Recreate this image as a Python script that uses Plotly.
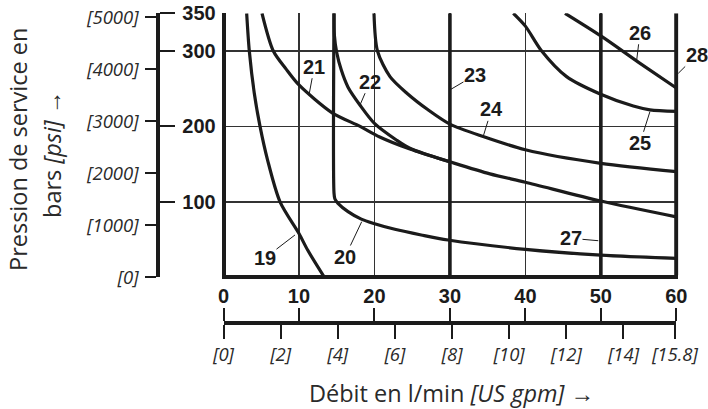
import plotly.graph_objects as go

# ---------------- data ----------------
LPM_PER_GPM = 3.78541
PSI_PER_BAR = 14.5038

flow_ticks = [0, 10, 20, 30, 40, 50, 60]
flow_labels = ["0", "10", "20", "30", "40", "50", "60"]
gpm_ticks = [0, 2, 4, 6, 8, 10, 12, 14, 15.8]
gpm_labels = ["[0]", "[2]", "[4]", "[6]", "[8]", "[10]", "[12]", "[14]", "[15.8]"]
bar_ticks = [100, 200, 300, 350]
bar_labels = ["100", "200", "300", "350"]
psi_ticks = [0, 1000, 2000, 3000, 4000, 5000]
psi_labels = ["[0]", "[1000]", "[2000]", "[3000]", "[4000]", "[5000]"]

grid_x = [10, 20, 30, 40, 50]
grid_y = [100, 200, 300, 350]

c19_x = [3.07, 3.42, 4.08, 4.84, 5.85, 7.49, 10.0, 11.15, 13.36]
c19_y = [350, 300, 244, 200, 155, 100, 58, 36, 0]
c20_x = [14.64, 14.64, 14.75, 15.17, 16.5, 18.26, 19.8, 22.7, 26.2, 29.75, 40, 50, 60]
c20_y = [350, 112, 104, 98, 87, 77, 71.5, 63.5, 56, 49.3, 37, 29.3, 25]
c21_x = [5.1, 6.6, 8.3, 10, 14.4, 18.1, 20.7, 24.7, 30, 35.3, 40, 50, 60]
c21_y = [350, 300, 276, 255, 218, 200, 186, 170, 153, 137, 126, 101, 80]
c22_x = [14.64, 14.7, 15.0, 15.6, 16.5, 18.1, 20, 22.9, 24.7, 30]
c22_y = [350, 320, 298, 275, 252, 228, 204, 182, 171, 153]
c23_x = [30, 30]
c23_y = [0, 350]
c24_x = [19.94, 20.4, 22.06, 24.3, 27.1, 30, 34.4, 40, 50, 60]
c24_y = [350, 300, 266, 244, 222, 203, 186.5, 169, 151, 140]
c25_x = [38.4, 40.0, 42.16, 45.46, 49.9, 54.3, 56.5, 60]
c25_y = [350, 333, 300, 266, 243, 227, 222, 220]
c26_x = [45.25, 50, 55, 60]
c26_y = [350, 320, 285, 251]
c27_x = [50, 50]
c27_y = [0, 350]
c28_x = [60, 60]
c28_y = [0, 350]

label_names = ["19", "20", "21", "22", "23", "24", "25", "26", "27", "28"]
label_head_x = [9.47, 18.31, 11.37, 18.09, 30.1, 34.4, 56.5, 54.75, 49.66, 60.26]
label_head_y = [56, 73.6, 243.9, 228.4, 249, 186.3, 219.5, 288, 48.4, 270.4]
label_dx = [-30, -16.7, 5, 10, 24.3, 8.4, -10, 3.3, -27.3, 18.4]
label_dy = [23, 35.3, -26.6, -23.3, -14.3, -27.4, 31.6, -27.3, -2.4, -18.3]

# ---------------- geometry (pixels) ----------------
W, H = 708, 409
X0_PX, X_SCALE = 223.5, 7.547     # pixel of 0 l/min, px per l/min
Y0_PX, Y_SCALE = 277.2, 0.754     # pixel of 0 bar, px per bar
LW = 4                            # frame line width
AX_LEFT_PX = 158.3                # left double axis
AX_BOTTOM_PX = 322.7              # bottom double axis

def fx(p):
    return p / W

def fy(p):
    return 1 - p / H

x_right_px = X0_PX + 60 * X_SCALE
y_top_px = Y0_PX - 350 * Y_SCALE

INK = "#1b1b1b"
BOLD = dict(family="Liberation Sans, Arial, sans-serif", size=20, color=INK, weight="bold")
ITAL = dict(family="Open Sans, Noto Sans, sans-serif", size=18.5, color="#2a2a2a", style="italic")
TITLE = dict(family="Open Sans, Noto Sans, sans-serif", size=23.5, color="#2a2a2a")

fig = go.Figure()

curve_sets = [
    (c19_x, c19_y, 3.2), (c20_x, c20_y, 3.2), (c21_x, c21_y, 3.2), (c22_x, c22_y, 3.2),
    (c24_x, c24_y, 3.2), (c25_x, c25_y, 3.2), (c26_x, c26_y, 3.2),
    (c23_x, c23_y, 3.6), (c27_x, c27_y, 3.6), (c28_x, c28_y, 4.2),
]
for cx, cy, w in curve_sets:
    fig.add_trace(go.Scatter(x=cx, y=cy, mode="lines",
                             line=dict(color=INK, width=w, shape="spline", smoothing=0.8),
                             hoverinfo="skip", showlegend=False))

# carriers for the secondary scales
fig.add_trace(go.Scatter(x=[None], y=[None], xaxis="x2", yaxis="y2", showlegend=False, hoverinfo="skip"))
fig.add_trace(go.Scatter(x=[None], y=[None], xaxis="x3", yaxis="y3", showlegend=False, hoverinfo="skip"))

main_x_dom = [fx(X0_PX + LW / 2), fx(x_right_px + LW / 2)]
main_y_dom = [fy(Y0_PX - LW / 2), fy(y_top_px)]
free_x_dom = [fx(X0_PX), fx(x_right_px)]
free_y_dom = [fy(Y0_PX), fy(y_top_px)]

annotations = []
for name, hx, hy, dx, dy in zip(label_names, label_head_x, label_head_y, label_dx, label_dy):
    annotations.append(dict(x=hx, y=hy, xref="x", yref="y", text=name, showarrow=True,
                            arrowhead=0, arrowwidth=1, arrowcolor=INK, ax=dx, ay=dy,
                            font=BOLD, standoff=0, borderpad=0))

annotations += [
    dict(x=fx(18), y=fy(150), xref="paper", yref="paper", text="Pression de service en",
         textangle=-90, showarrow=False, font=TITLE, xanchor="center", yanchor="middle"),
    dict(x=fx(52), y=fy(155), xref="paper", yref="paper", text="bars <i>[psi]</i> →",
         textangle=-90, showarrow=False, font=TITLE, xanchor="center", yanchor="middle"),
    dict(x=fx(451.7), y=fy(392.5), xref="paper", yref="paper",
         text="Débit en l/min <i>[US gpm]</i> →",
         showarrow=False, font=TITLE, xanchor="center", yanchor="middle"),
]

fig.update_layout(
    width=W, height=H,
    margin=dict(l=0, r=0, t=0, b=0, pad=0, autoexpand=False),
    paper_bgcolor="white", plot_bgcolor="rgba(0,0,0,0)",
    showlegend=False,
    xaxis=dict(domain=main_x_dom, range=[LW / 2 / X_SCALE, 60 + LW / 2 / X_SCALE],
               showline=True, linewidth=LW, linecolor=INK, mirror=False,
               tickmode="array", tickvals=grid_x, showticklabels=False, ticks="",
               showgrid=True, gridcolor="#333333", gridwidth=1.5, zeroline=False, fixedrange=True),
    yaxis=dict(domain=main_y_dom, range=[LW / 2 / Y_SCALE, 350],
               showline=True, linewidth=LW, linecolor=INK, mirror=False,
               tickmode="array", tickvals=grid_y, showticklabels=False, ticks="",
               showgrid=True, gridcolor="#333333", gridwidth=1.5, zeroline=False, fixedrange=True),
    xaxis2=dict(domain=free_x_dom, range=[0, 60], anchor="free", position=fy(AX_BOTTOM_PX),
                side="top", showline=True, linewidth=LW, linecolor=INK,
                tickmode="array", tickvals=flow_ticks, ticktext=flow_labels,
                ticks="outside", ticklen=13, tickwidth=2, tickcolor=INK, ticklabelstandoff=-3,
                tickfont=BOLD, showgrid=False, zeroline=False, fixedrange=True),
    xaxis3=dict(domain=free_x_dom, range=[0, 60 / LPM_PER_GPM], anchor="free", position=fy(AX_BOTTOM_PX),
                side="bottom", showline=True, linewidth=LW, linecolor=INK,
                tickmode="array", tickvals=gpm_ticks, ticktext=gpm_labels,
                ticks="outside", ticklen=14, tickwidth=2, tickcolor=INK,
                tickfont=ITAL, showgrid=False, zeroline=False, fixedrange=True),
    yaxis2=dict(domain=free_y_dom, range=[0, 350], anchor="free", position=fx(AX_LEFT_PX),
                side="right", showline=True, linewidth=LW, linecolor=INK,
                tickmode="array", tickvals=bar_ticks, ticktext=bar_labels,
                ticks="outside", ticklen=15, tickwidth=2, tickcolor=INK, ticklabelstandoff=3,
                tickfont=BOLD, showgrid=False, zeroline=False, fixedrange=True),
    yaxis3=dict(domain=free_y_dom, range=[0, 350 * PSI_PER_BAR], anchor="free", position=fx(AX_LEFT_PX),
                side="left", showline=True, linewidth=LW, linecolor=INK,
                tickmode="array", tickvals=psi_ticks, ticktext=psi_labels,
                ticks="outside", ticklen=11, tickwidth=2, tickcolor=INK, ticklabelstandoff=3,
                tickfont=ITAL, showgrid=False, zeroline=False, fixedrange=True),
    annotations=annotations,
)

fig.write_html("out.html", config={"displayModeBar": False, "staticPlot": True},
               post_script="document.body.style.margin='0';document.body.style.overflow='hidden';")
